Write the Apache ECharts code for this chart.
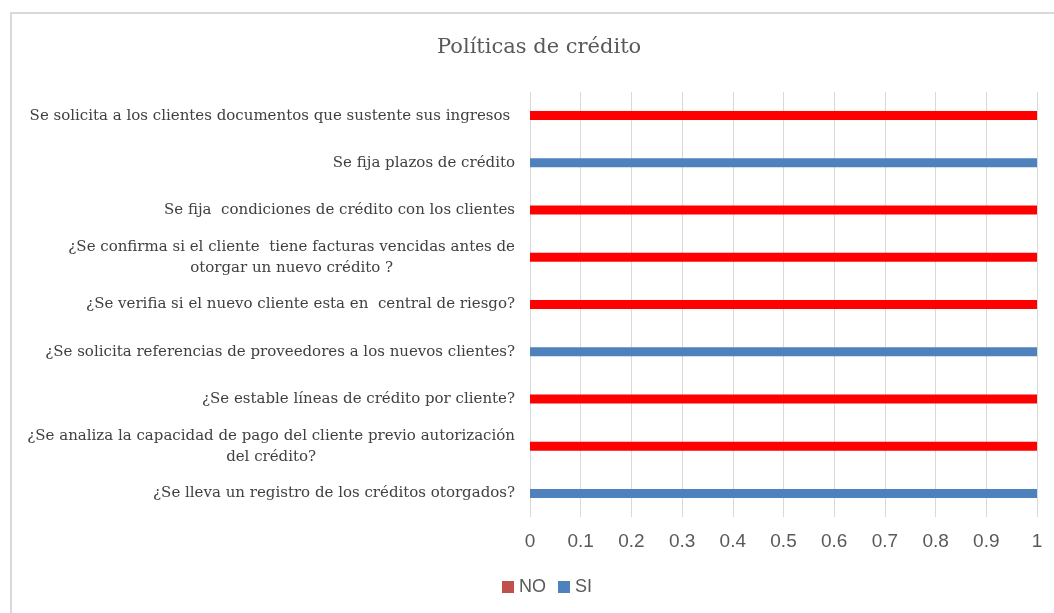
<!DOCTYPE html>
<html>
<head>
<meta charset="utf-8">
<script src="https://cdn.jsdelivr.net/npm/echarts@6/dist/echarts.min.js"></script>
<style>
  html, body { margin: 0; padding: 0; background: #fff; }
  #chart { width: 1054px; height: 613px; }
</style>
</head>
<body>
<div id="chart"></div>
<script>
var myChart = echarts.init(document.getElementById("chart"));

// preguntas (de arriba hacia abajo)
var categorias = [
  "Se solicita a los clientes documentos que sustente sus ingresos ",
  "Se fija plazos de crédito",
  "Se fija  condiciones de crédito con los clientes",
  "¿Se confirma si el cliente  tiene facturas vencidas antes de\notorgar un nuevo crédito ?",
  "¿Se verifia si el nuevo cliente esta en  central de riesgo?",
  "¿Se solicita referencias de proveedores a los nuevos clientes?",
  "¿Se estable líneas de crédito por cliente?",
  "¿Se analiza la capacidad de pago del cliente previo autorización\ndel crédito?",
  "¿Se lleva un registro de los créditos otorgados?"
];
var valoresNO = [1, "-", 1, 1, 1, "-", 1, 1, "-"];
var valoresSI = ["-", 1, "-", "-", "-", 1, "-", "-", 1];

var option = {
  animation: false,
  title: {
    text: "Políticas de crédito",
    left: 432,
    top: 32,
    textStyle: {
      color: "#595959",
      fontFamily: "DejaVu Serif",
      fontSize: 21,
      fontWeight: "normal"
    }
  },
  graphic: [
    {
      type: "rect",
      shape: { x: 11, y: 13, width: 1052, height: 620 },
      style: { fill: "none", stroke: "#d9d9d9", lineWidth: 2 },
      silent: true
    }
  ],
  legend: {
    bottom: 12,
    left: 497,
    icon: "rect",
    itemWidth: 12,
    itemHeight: 12,
    itemGap: 12,
    textStyle: { color: "#595959", fontFamily: "Liberation Sans", fontSize: 18 },
    data: [
      { name: "NO", itemStyle: { color: "#c0504d" } },
      { name: "SI", itemStyle: { color: "#4f81bd" } }
    ]
  },
  grid: { left: 530, right: 17, top: 92, bottom: 96, containLabel: false },
  xAxis: {
    type: "value",
    min: 0,
    max: 1,
    interval: 0.1,
    axisLine: { show: false },
    axisTick: { show: false },
    splitLine: { lineStyle: { color: "#d9d9d9", width: 1 } },
    axisLabel: {
      color: "#595959",
      fontFamily: "Liberation Sans",
      fontSize: 19,
      margin: 15
    }
  },
  yAxis: {
    type: "category",
    inverse: true,
    data: categorias,
    axisLine: { show: false },
    axisTick: { show: false },
    axisLabel: {
      margin: 15,
      color: "#404040",
      fontFamily: "DejaVu Serif",
      fontSize: 15,
      lineHeight: 21,
      formatter: function (v) {
        return v.split("\n").map(function (l) { return "{c|" + l + "}"; }).join("\n");
      },
      rich: {
        c: {
          align: "center",
          color: "#404040",
          fontFamily: "DejaVu Serif",
          fontSize: 15,
          lineHeight: 21
        }
      }
    }
  },
  series: [
    {
      name: "NO",
      type: "bar",
      stack: "total",
      barWidth: 9,
      data: valoresNO,
      itemStyle: { color: "#ff0000" }
    },
    {
      name: "SI",
      type: "bar",
      stack: "total",
      barWidth: 9,
      data: valoresSI,
      itemStyle: { color: "#4f81bd" }
    }
  ]
};
myChart.setOption(option);
</script>
</body>
</html>
